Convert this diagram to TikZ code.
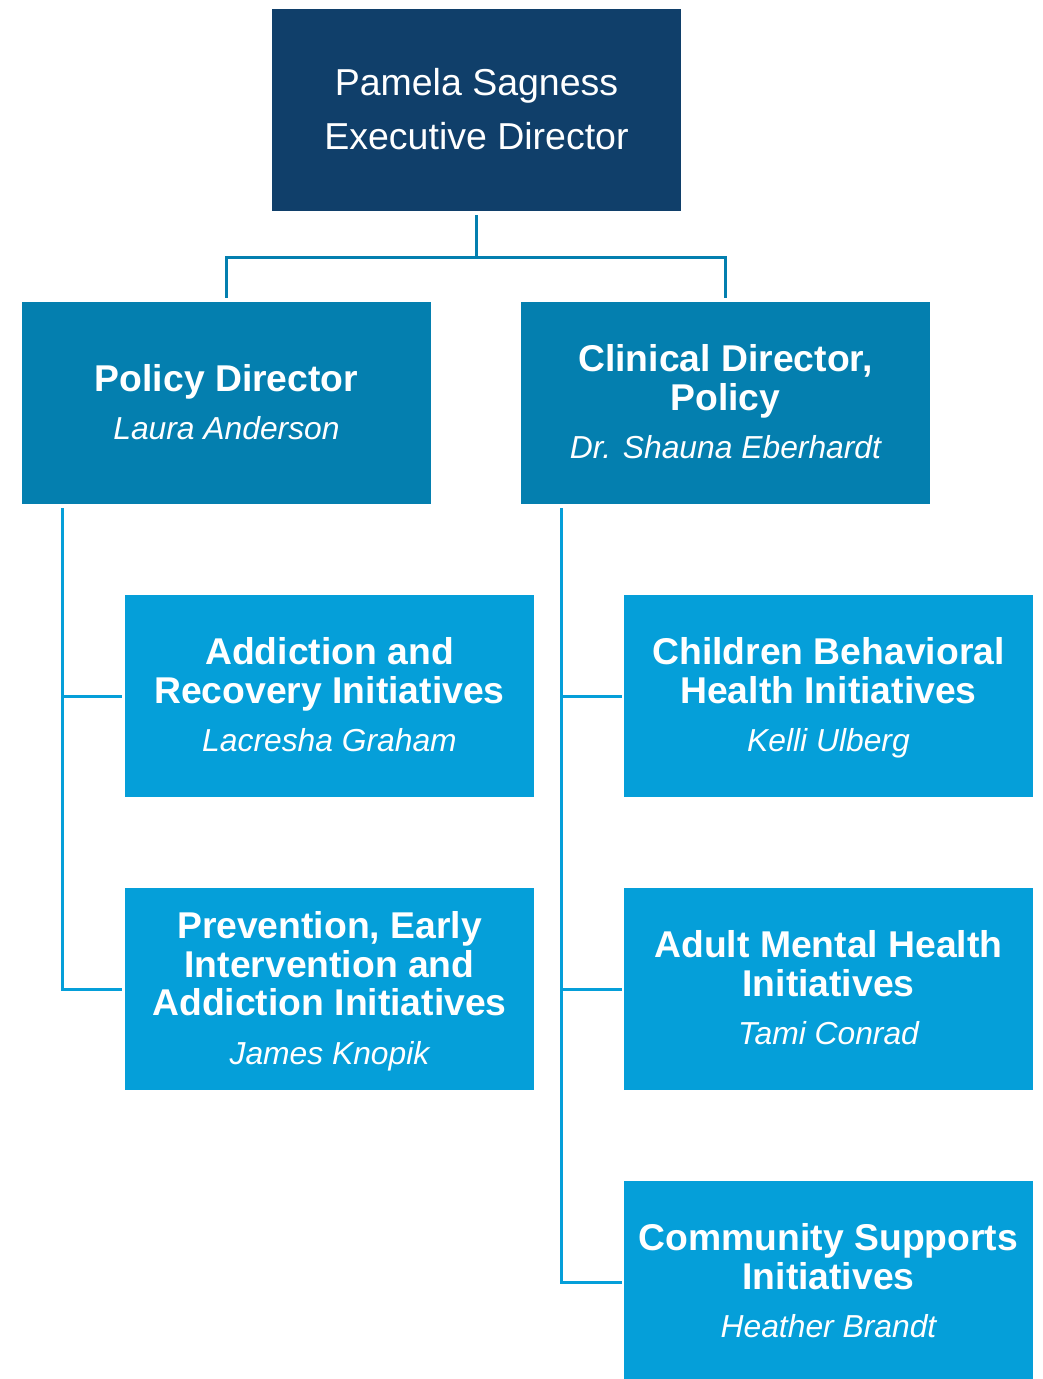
\documentclass[tikz,border=0pt]{standalone}
\usepackage{fontspec}
\setmainfont{Liberation Sans}
\definecolor{navy}{RGB}{16,63,106}
\definecolor{midblue}{RGB}{4,127,175}
\definecolor{lightblue}{RGB}{5,159,217}
\tikzset{
  orgbox/.style={rectangle, inner sep=0pt, minimum width=409pt, minimum height=202pt, draw=none},
  topbox/.style={orgbox, fill=navy},
  midbox/.style={orgbox, fill=midblue},
  lowbox/.style={orgbox, fill=lightblue},
  ttl/.style={anchor=base, text=white, inner sep=0pt, font=\fontsize{37.3}{39}\selectfont\bfseries},
  nm/.style={anchor=base, text=white, inner sep=0pt, font=\fontsize{31.8}{36}\selectfont\itshape},
  exec/.style={anchor=base, text=white, inner sep=0pt, font=\fontsize{37.5}{39}\selectfont},
  topconn/.style={draw=midblue, line width=3pt},
  lowconn/.style={draw=lightblue, line width=3pt},
}
\begin{document}
\begin{tikzpicture}[x=1pt,y=-1pt]
\useasboundingbox (0,0) rectangle (1043,1379);
% boxes
\node[topbox] (top) at (476.5,110) {};
\node[midbox] (policy) at (226.5,403) {};
\node[midbox] (clinical) at (725.5,403) {};
\node[lowbox] (addiction) at (329.5,696) {};
\node[lowbox] (prevention) at (329.5,989) {};
\node[lowbox] (children) at (828.5,696) {};
\node[lowbox] (adult) at (828.5,989) {};
\node[lowbox] (community) at (828.5,1282) {};
% texts
\node[exec] (t1) at (476.5,95) {Pamela Sagness};
\node[exec] (t2) at (476.5,149) {Executive Director};
\node[ttl] (p1) at (226.5,391) {Policy Director};
\node[nm] (p2) at (226.5,439) {Laura Anderson};
\node[ttl] (c1) at (725.5,371) {Clinical Director,};
\node[ttl] (c2) at (725.5,410) {Policy};
\node[nm] (c3) at (725.5,458) {Dr. Shauna Eberhardt};
\node[ttl] (a1) at (329.5,664) {Addiction and};
\node[ttl] (a2) at (329.5,703) {Recovery Initiatives};
\node[nm] (a3) at (329.5,751) {Lacresha Graham};
\node[ttl] (e1) at (329.5,938) {Prevention, Early};
\node[ttl] (e2) at (329.5,977) {Intervention and};
\node[ttl] (e3) at (329.5,1015) {Addiction Initiatives};
\node[nm] (e4) at (329.5,1064) {James Knopik};
\node[ttl] (h1) at (828.5,664) {Children Behavioral};
\node[ttl] (h2) at (828.5,703) {Health Initiatives};
\node[nm] (h3) at (828.5,751) {Kelli Ulberg};
\node[ttl] (m1) at (828.5,957) {Adult Mental Health};
\node[ttl] (m2) at (828.5,996) {Initiatives};
\node[nm] (m3) at (828.5,1044) {Tami Conrad};
\node[ttl] (s1) at (828.5,1250) {Community Supports};
\node[ttl] (s2) at (828.5,1289) {Initiatives};
\node[nm] (s3) at (828.5,1337) {Heather Brandt};
% top connectors
\coordinate (topfork) at (476.5,257);
\draw[topconn, shorten <=4pt] (top.south) -- (topfork);
\draw[topconn, shorten >=4pt] (topfork) -| (policy.north);
\draw[topconn, shorten >=4pt] (topfork) -| (clinical.north);
% left trunk
\coordinate (ltrunk) at (62,508);
\draw[lowconn, shorten >=3pt] (ltrunk) |- (prevention.west);
\draw[lowconn, shorten >=3pt] (ltrunk |- addiction.west) -- (addiction.west);
% right trunk
\coordinate (rtrunk) at (561,508);
\draw[lowconn, shorten >=2pt] (rtrunk) |- (community.west);
\draw[lowconn, shorten >=2pt] (rtrunk |- children.west) -- (children.west);
\draw[lowconn, shorten >=2pt] (rtrunk |- adult.west) -- (adult.west);
\end{tikzpicture}
\end{document}
